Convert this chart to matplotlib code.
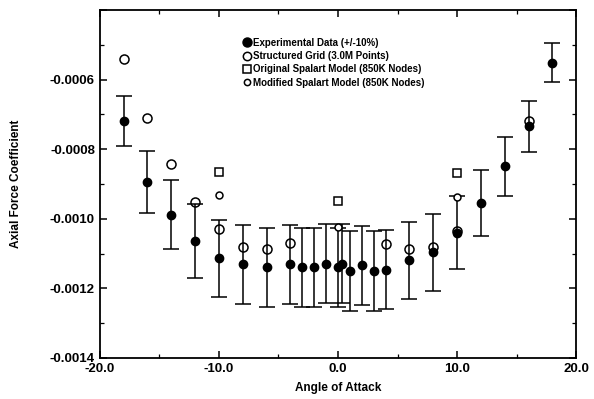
import numpy as np
import matplotlib.pyplot as plt
from matplotlib.lines import Line2D
from matplotlib.ticker import MultipleLocator, FormatStrFormatter
plt.switch_backend('agg')

plt.rcParams['font.family'] = ['Liberation Sans', 'DejaVu Sans']

# experimental data (+/- 10%)
exp_alpha = [-18, -16, -14, -12, -10, -8, -6, -4, -3, -2, -1, 0, 0.3,
             1, 2, 3, 4, 6, 8, 10, 12, 14, 16, 18]
exp_cx = [-0.000720, -0.000894, -0.000988, -0.001063, -0.001114, -0.001131,
          -0.001140, -0.001131, -0.001140, -0.001140, -0.001129, -0.001140,
          -0.001129, -0.001151, -0.001134, -0.001151, -0.001146, -0.001120,
          -0.001097, -0.001040, -0.000954, -0.000849, -0.000734, -0.000551]

# structured grid (3.0M points)
sg_alpha = [-18, -16, -14, -12, -10, -8, -6, -4, 4, 6, 8, 10, 16]
sg_cx = [-0.000540, -0.000711, -0.000843, -0.000951, -0.001029, -0.001080,
         -0.001086, -0.001071, -0.001074, -0.001086, -0.001080, -0.001034,
         -0.000720]

# original spalart model (850K nodes)
osp_alpha = [-10, 0, 10]
osp_cx = [-0.000865, -0.000949, -0.000869]

# modified spalart model (850K nodes)
msp_alpha = [-10, 0, 10]
msp_cx = [-0.000931, -0.001023, -0.000937]

labels = ['Experimental Data (+/-10%)', 'Structured Grid (3.0M Points)',
          'Original Spalart Model (850K Nodes)', 'Modified Spalart Model (850K Nodes)']

fig = plt.figure(figsize=(5.94, 3.99), dpi=100)
ax = fig.add_axes([0.168, 0.103, 0.802, 0.872])

err = 0.1 * np.abs(np.array(exp_cx))
ax.errorbar(exp_alpha, exp_cx, yerr=err, fmt='o', color='black', ms=6,
            ecolor='black', elinewidth=1.1, capsize=6, capthick=1.1, zorder=3)
ax.plot(sg_alpha, sg_cx, 'o', mfc='white', mec='black', mew=1.1, ms=6.5, zorder=2)
ax.plot(osp_alpha, osp_cx, 's', mfc='white', mec='black', mew=1.1, ms=5.5, zorder=2)
ax.plot(msp_alpha, msp_cx, 'o', mfc='white', mec='black', mew=1.1, ms=5, zorder=4)

ax.set_xlim(-20, 20)
ax.set_ylim(-0.0014, -0.0004)
ax.xaxis.set_major_locator(MultipleLocator(10))
ax.xaxis.set_minor_locator(MultipleLocator(5))
ax.yaxis.set_minor_locator(MultipleLocator(0.0001))
ax.xaxis.set_major_formatter(FormatStrFormatter('%.1f'))
ax.tick_params(which='both', direction='in', top=True, right=True)
ax.tick_params(which='major', length=5, width=1.1, labelsize=9.5)
ax.tick_params(which='minor', length=3, width=0.9)
for lab in ax.get_xticklabels():
    lab.set_fontweight('bold')
yt = [-0.0014, -0.0012, -0.0010, -0.0008, -0.0006, -0.0004]
ax.set_yticks(yt)
ax.set_yticklabels(['%.4f' % t for t in yt[:-1]] + [''], fontweight='bold')
ax.set_ylim(-0.0014, -0.0004)
for sp in ax.spines.values():
    sp.set_linewidth(1.3)

ax.set_xlabel('Angle of Attack', fontsize=8.5, fontweight='bold', labelpad=5)
ax.set_ylabel('Axial Force Coefficient', fontsize=8.5, fontweight='bold', labelpad=20)

handles = [
    Line2D([], [], ls='', marker='o', color='black', ms=6.5),
    Line2D([], [], ls='', marker='o', mfc='white', mec='black', mew=1.1, ms=6),
    Line2D([], [], ls='', marker='s', mfc='white', mec='black', mew=1.1, ms=5.5),
    Line2D([], [], ls='', marker='o', mfc='white', mec='black', mew=1.1, ms=4.5),
]
ax.legend(handles, labels, loc='upper left', bbox_to_anchor=(0.285, 0.94),
          frameon=False, prop={'weight': 'bold', 'size': 7.0},
          handletextpad=0.1, handlelength=1.0, labelspacing=0.35,
          borderpad=0.2, numpoints=1)

plt.savefig('out.png', dpi=100)
plt.close()
